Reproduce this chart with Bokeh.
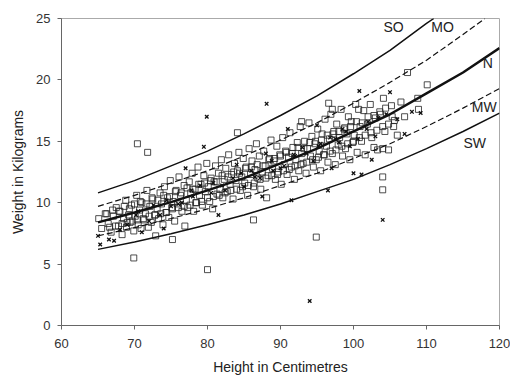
from bokeh.plotting import figure
from bokeh.embed import file_html
from bokeh.resources import INLINE
from bokeh.models import Range1d, FixedTicker
from bokeh.core.properties import value

# Reference curves (height cm -> weight kg)
so_x = [65, 70, 75, 80, 85, 90, 95, 100, 105, 110, 111]
so_y = [10.8, 11.8, 13.0, 14.2, 15.6, 17.1, 18.7, 20.5, 22.4, 24.6, 25.0]
mo_x = [65, 70, 75, 80, 85, 90, 95, 100, 105, 110, 115, 118]
mo_y = [9.7, 10.6, 11.6, 12.6, 13.8, 15.1, 16.5, 18.1, 19.8, 21.6, 23.7, 25.0]
n_x = [65, 70, 75, 80, 85, 90, 95, 100, 105, 110, 115, 120]
n_y = [8.4, 9.2, 10.05, 11.0, 12.0, 13.2, 14.4, 15.8, 17.2, 18.9, 20.6, 22.6]
mw_x = [65, 70, 75, 80, 85, 90, 95, 100, 105, 110, 115, 120]
mw_y = [7.3, 7.97, 8.71, 9.5, 10.4, 11.4, 12.4, 13.6, 14.8, 16.2, 17.7, 19.3]
sw_x = [65, 70, 75, 80, 85, 90, 95, 100, 105, 110, 115, 120]
sw_y = [6.2, 6.8, 7.47, 8.2, 9.0, 9.9, 10.9, 11.9, 13.1, 14.4, 15.8, 17.3]

curve_labels = ["SO", "MO", "N", "MW", "SW"]
label_x = [105.5, 112.2, 118.4, 117.9, 116.6]
label_y = [24.3, 24.3, 21.4, 17.8, 14.9]

# Children measured (squares)
sq_x = [65.1, 65.5, 66.0, 66.4, 66.8, 67.1, 67.5, 67.8, 68.0, 68.3, 68.5, 68.8, 68.9,
        69.2, 69.4, 69.6, 69.9, 70.1, 70.3, 70.5, 70.7, 70.9, 71.0, 71.3, 71.5, 71.7, 71.9,
        72.1, 72.3, 72.5, 72.8, 72.9,
        73.1, 73.3, 73.5, 73.7, 73.9, 74.1, 74.3, 74.5, 74.7, 74.9, 75.1, 75.3, 75.5, 75.7,
        75.9, 76.1, 76.3, 76.5, 76.8, 76.9,
        77.1, 77.3, 77.5, 77.7, 77.9, 78.1, 78.3, 78.5, 78.7, 78.9, 79.1, 79.3, 79.5, 79.7,
        79.9, 80.1, 80.3, 80.5, 80.7, 80.9,
        81.1, 81.3, 81.5, 81.7, 81.9, 82.1, 82.3, 82.5, 82.7, 82.9, 83.1, 83.3, 83.5, 83.7,
        83.9, 84.1, 84.3, 84.5, 84.7, 84.9,
        85.1, 85.3, 85.5, 85.7, 85.9, 86.1, 86.3, 86.5, 86.7, 86.9, 87.1, 87.3, 87.5, 87.7,
        87.9, 88.1, 88.3, 88.5, 88.7, 88.9,
        89.1, 89.3, 89.5, 89.7, 89.9, 90.1, 90.3, 90.5, 90.7, 90.9, 91.1, 91.3, 91.5, 91.7,
        91.9, 92.1, 92.3, 92.5, 92.7, 92.9,
        93.1, 93.3, 93.5, 93.7, 93.9, 94.1, 94.3, 94.5, 94.7, 94.9, 95.1, 95.3, 95.5, 95.7,
        95.9, 96.1, 96.3, 96.5, 96.7, 96.9,
        97.1, 97.3, 97.5, 97.7, 97.9, 98.1, 98.3, 98.5, 98.7, 98.9, 99.1, 99.3, 99.5, 99.7,
        99.9, 100.1, 100.3, 100.5, 100.7, 100.9,
        101.1, 101.4, 101.6, 101.9, 102.3, 102.5, 102.8, 103.0, 103.3, 103.7, 104.0, 104.1,
        104.3, 104.8, 104.0, 104.0,
        105.3, 105.5, 106.0, 107.0, 107.4, 108.8, 108.9, 110.1, 106.5,
        70.4, 71.8, 69.9, 80.0, 94.9, 84.1, 75.2, 86.3, 96.6, 97.1, 92.9]
sq_y = [8.7, 7.9, 9.1, 8.3, 7.6, 8.9, 9.6, 8.1, 9.3, 7.4, 8.7, 10.2, 8.0,
        9.0, 8.4, 9.8, 7.7, 8.9, 10.6, 8.2, 9.4, 7.9, 10.0, 8.6, 9.1, 11.0, 8.0,
        9.7, 8.4, 10.3, 9.0, 7.3,
        9.5, 8.7, 10.8, 9.9, 8.2, 11.3, 9.2, 10.4, 8.8, 11.8, 9.6, 10.1, 8.5, 11.0,
        9.9, 12.1, 10.6, 9.3, 11.4, 8.1,
        10.2, 9.6, 11.7, 10.8, 12.4, 9.3, 11.1, 10.0, 12.9, 10.6, 11.5, 9.8, 12.2, 10.9,
        13.2, 11.3, 10.1, 12.0, 9.5, 11.7,
        13.0, 10.7, 12.4, 11.1, 13.5, 10.4, 11.9, 12.8, 10.9, 13.9, 11.5, 12.3, 10.3, 13.2,
        11.8, 12.6, 14.1, 11.0, 12.1, 13.6,
        11.6, 12.9, 10.6, 14.4, 12.3, 13.4, 11.3, 12.7, 14.8, 12.0, 13.8, 11.1, 12.5, 14.2,
        13.0, 10.4, 12.2, 13.6, 15.1, 12.8,
        13.4, 11.9, 14.6, 12.5, 13.9, 11.5, 15.3, 13.1, 14.2, 12.3, 13.7, 15.7, 12.9, 14.5,
        11.9, 13.5, 14.9, 12.6, 16.2, 14.0,
        13.2, 15.0, 12.4, 14.4, 16.5, 13.8, 15.4, 12.9, 14.8, 13.5, 16.0, 14.2, 12.6, 15.6,
        13.9, 16.8, 14.6, 13.3, 15.2, 17.2,
        14.0, 15.8, 13.1, 16.4, 14.7, 15.3, 17.6, 13.8, 16.0, 14.4, 15.6, 17.0, 13.5, 16.6,
        14.9, 15.5, 18.0, 14.1, 17.6, 16.2,
        15.0, 17.5, 13.9, 16.4, 18.0, 15.3, 14.5, 16.9, 14.3, 17.2, 14.4, 18.5,
        15.8, 14.3, 12.1, 11.05,
        17.0, 16.2, 15.5, 17.0, 20.6, 18.5, 17.6, 19.6, 18.2,
        14.8, 14.1, 5.5, 4.55, 7.2, 15.7, 7.0, 8.6, 18.1, 17.6, 16.6]

# Further squares in the dense core of the cloud
sq2_x = [66.2, 67.0, 67.9, 68.6, 69.3, 70.0, 70.8, 71.6, 72.4, 73.2, 74.0, 74.8, 75.6,
         76.4, 77.2, 78.0, 78.8, 79.6, 80.4, 81.2, 82.0, 82.8, 83.6, 84.4, 85.2, 86.0,
         86.8, 87.6, 88.4, 89.2, 90.0, 90.8, 91.6, 92.4, 93.2, 94.0, 94.8, 95.6, 96.4,
         97.2, 98.0, 98.8, 99.6, 100.4, 101.2, 102.0, 102.8, 103.6, 104.4, 105.2]
sq2_y = [9.1, 9.4, 9.3, 9.7, 9.5, 9.9, 10.1, 9.9, 10.4, 10.2, 10.6, 10.5, 10.9,
         10.8, 11.2, 11.1, 11.5, 11.6, 11.8, 11.7, 12.2, 12.1, 12.5, 12.4, 12.8, 12.9,
         13.1, 13.0, 13.5, 13.6, 13.8, 14.1, 14.0, 14.5, 14.4, 14.9, 15.0, 15.1, 15.5,
         15.6, 15.8, 16.1, 16.2, 16.6, 16.5, 17.0, 17.1, 17.4, 17.7, 17.9]
sq3_x = [66.6, 67.4, 68.3, 69.0, 69.7, 70.4, 71.2, 72.0, 72.8, 73.6, 74.4, 75.2, 76.0,
         76.8, 77.6, 78.4, 79.2, 80.0, 80.8, 81.6, 82.4, 83.2, 84.0, 84.8, 85.6, 86.4,
         87.2, 88.0, 88.8, 89.6, 90.4, 91.2, 92.0, 92.8, 93.6, 94.4, 95.2, 96.0, 96.8,
         97.6, 98.4, 99.2, 100.0, 100.8, 101.6, 102.4, 103.2, 104.0, 104.8, 105.6]
sq3_y = [8.0, 8.1, 8.3, 8.4, 8.5, 8.6, 8.7, 8.9, 9.0, 9.1, 9.2, 9.5, 9.6,
         9.7, 9.8, 10.0, 10.1, 10.4, 10.5, 10.6, 10.8, 11.0, 11.1, 11.3, 11.4, 11.6,
         11.9, 12.0, 12.2, 12.3, 12.6, 12.7, 13.0, 13.1, 13.3, 13.5, 13.7, 13.9, 14.2,
         14.3, 14.6, 14.8, 15.0, 15.3, 15.5, 15.7, 15.9, 16.2, 16.4, 16.7]

# Children measured (crosses)
cr_x = [65.0, 65.3, 66.5, 67.2, 68.0, 69.0, 70.5, 72.0, 73.5, 75.0, 76.5, 78.0, 79.5, 79.9,
        80.5, 82.0, 83.5, 85.0, 86.5, 87.5, 88.1, 89.0, 90.5, 91.5, 92.0, 93.0, 94.0, 94.5,
        95.5, 96.5, 97.5, 98.5, 99.5, 100.0, 100.8, 101.1, 102.0, 103.0, 104.0, 104.5, 105.0,
        106.0, 107.0, 108.0, 109.2, 77.0, 81.5, 84.0, 88.0, 91.0, 95.0, 74.0, 71.0, 97.0, 102.5,
        70.2, 72.6, 74.4, 76.0, 77.8, 79.0, 80.8, 82.4, 84.6, 86.0, 87.2, 88.8, 90.0, 91.8,
        93.6, 95.2, 96.8, 98.0, 99.0, 100.6, 101.8, 103.4]
cr_y = [7.3, 6.6, 7.0, 6.9, 7.8, 8.2, 9.3, 8.5, 9.0, 9.7, 10.0, 10.5, 14.55, 17.0,
        10.8, 11.4, 12.0, 11.3, 12.1, 10.5, 18.05, 12.6, 13.0, 10.2, 13.8, 14.5, 2.0, 13.4,
        14.8, 11.0, 15.2, 16.0, 14.6, 12.4, 19.1, 12.3, 16.6, 15.4, 8.6, 17.2, 19.0,
        16.8, 15.6, 17.4, 17.3, 12.8, 9.0, 13.1, 14.0, 16.0, 16.3, 7.9, 7.6, 12.8, 13.5,
        9.0, 9.8, 10.2, 9.9, 11.0, 11.4, 11.6, 11.0, 12.4, 12.6, 12.0, 13.4, 12.8, 13.9,
        14.0, 14.6, 15.3, 14.9, 15.8, 15.2, 16.0, 16.9]

FONT = "Liberation Sans"

p = figure(width=510, height=377, output_backend="svg", toolbar_location=None,
           x_range=Range1d(60, 120), y_range=Range1d(0, 25),
           min_border_left=61, min_border_right=11, min_border_top=18, min_border_bottom=51)
p.background_fill_color = "white"
p.border_fill_color = "white"
p.outline_line_color = "#aaaaaa"
p.outline_line_width = 1
p.xgrid.visible = False
p.ygrid.visible = False

p.xaxis.ticker = FixedTicker(ticks=[60, 70, 80, 90, 100, 110, 120])
p.yaxis.ticker = FixedTicker(ticks=[0, 5, 10, 15, 20, 25])
for ax in (p.xaxis[0], p.yaxis[0]):
    ax.axis_line_color = "#666666"
    ax.major_tick_line_color = "#666666"
    ax.major_tick_out = 4
    ax.major_tick_in = 0
    ax.minor_tick_line_color = None
    ax.major_label_text_font = FONT
    ax.major_label_text_font_size = "13px"
    ax.major_label_text_color = "#333333"
    ax.axis_label_text_font = FONT
    ax.axis_label_text_font_size = "14px"
    ax.axis_label_text_font_style = "normal"
    ax.axis_label_text_color = "#222222"
p.xaxis.axis_label = "Height in Centimetres"
p.yaxis.axis_label = "Weight in Kilograms"
p.xaxis.major_label_standoff = 9
p.xaxis.axis_label_standoff = 8
p.yaxis.major_label_standoff = 7
p.yaxis.axis_label_standoff = 7

for xs, ys in ((sq_x, sq_y), (sq2_x, sq2_y), (sq3_x, sq3_y)):
    p.scatter(xs, ys, marker="square", size=6, line_color="#222222", line_width=0.8,
              fill_alpha=0)
p.scatter(cr_x, cr_y, marker="x", size=5, line_color="#111111", line_width=1.3)

p.line(so_x, so_y, line_color="#111111", line_width=1.5)
p.line(mo_x, mo_y, line_color="#111111", line_width=1.2, line_dash="6 3")
p.line(n_x, n_y, line_color="#111111", line_width=2.5)
p.line(mw_x, mw_y, line_color="#111111", line_width=1.2, line_dash="6 3")
p.line(sw_x, sw_y, line_color="#111111", line_width=1.5)

p.text(label_x, label_y, text=curve_labels, text_font=value(FONT), text_font_size="14px",
       text_color="#222222", text_align="center", text_baseline="middle")

open("out.html", "w").write(file_html(p, INLINE))
